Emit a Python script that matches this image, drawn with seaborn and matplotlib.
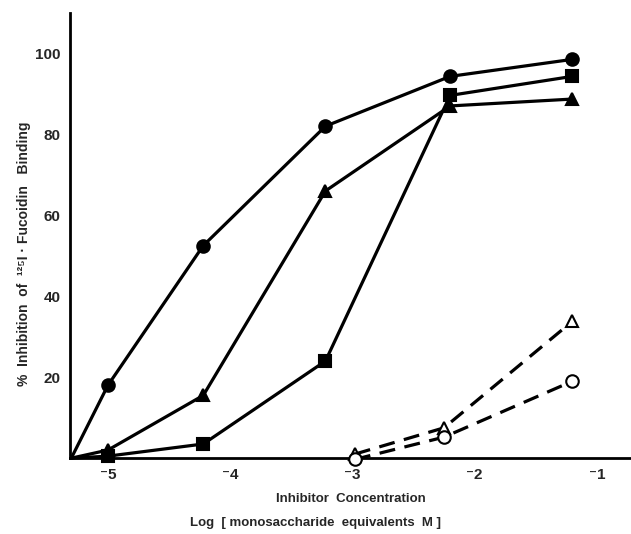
import pandas as pd
import seaborn as sns
from matplotlib import pyplot as plt

# Data (log inhibitor concentration vs % inhibition)
circle_x = [-5.3, -5.0, -4.22, -3.22, -2.2, -1.2]
circle_y = [0, 18, 52.5, 82, 94.3, 98.5]

square_x = [-5.3, -5.0, -4.22, -3.22, -2.2, -1.2]
square_y = [0, 0.5, 3.5, 24, 89.6, 94.3]

triangle_x = [-5.3, -5.0, -4.22, -3.22, -2.2, -1.2]
triangle_y = [0, 2, 15.5, 66, 87, 88.7]

open_triangle_x = [-2.98, -2.25, -1.2]
open_triangle_y = [1, 7.5, 33.8]

open_circle_x = [-2.98, -2.25, -1.2]
open_circle_y = [-0.3, 5.2, 19]

x_ticks = [-5, -4, -3, -2, -1]
x_tick_labels = ['\u207b5', '\u207b4', '\u207b3', '\u207b2', '\u207b1']
y_ticks = [20, 40, 60, 80, 100]

sns.set_style('white')
plt.rcParams['font.family'] = ['Liberation Sans', 'DejaVu Sans']
plt.rcParams['font.weight'] = 'bold'


def draw_series(ax, x, y, marker, filled, dashed, skip_first=False):
    df = pd.DataFrame({'x': x, 'y': y})
    # the solid curves start at the origin without a symbol
    every = list(range(1, len(x))) if skip_first else None
    sns.lineplot(data=df, x='x', y='y', ax=ax, sort=False, color='black',
                 linewidth=2.3, linestyle=(0, (5, 3)) if dashed else '-',
                 marker=marker, markersize=9 if marker != '^' else 8,
                 markevery=every,
                 markerfacecolor='black' if filled else 'white',
                 markeredgecolor='black', markeredgewidth=1.5,
                 clip_on=False, zorder=3)


fig = plt.figure(figsize=(6.31, 5.34), dpi=100)
ax = fig.add_axes([0.111, 0.142, 0.889, 0.834])

draw_series(ax, circle_x, circle_y, 'o', True, False, skip_first=True)
draw_series(ax, square_x, square_y, 's', True, False, skip_first=True)
draw_series(ax, triangle_x, triangle_y, '^', True, False, skip_first=True)
draw_series(ax, open_triangle_x, open_triangle_y, '^', False, True)
draw_series(ax, open_circle_x, open_circle_y, 'o', False, True)

ax.set_xlim(-5.31, -0.72)
ax.set_ylim(0, 110)
ax.set_xticks(x_ticks)
ax.set_xticklabels(x_tick_labels)
ax.set_yticks(y_ticks)
ax.tick_params(direction='in', length=5, width=1.5, labelsize=11, pad=7)

for side in ['top', 'right']:
    ax.spines[side].set_visible(False)
for side in ['left', 'bottom']:
    ax.spines[side].set_linewidth(2)
    ax.spines[side].set_color('black')

ax.set_xlabel('Inhibitor  Concentration', fontsize=9.5, fontweight='bold', labelpad=8)
ax.set_ylabel('%  Inhibition  of  \u00b9\u00b2\u2075I \u00b7 Fucoidin   Binding',
              fontsize=10, fontweight='bold')
ax.yaxis.set_label_coords(-0.07, 0.46)
fig.text(0.5, 0.015, 'Log  [ monosaccharide  equivalents  M ]',
         ha='center', fontsize=9.5, fontweight='bold')

plt.savefig('out.png', dpi=100)
